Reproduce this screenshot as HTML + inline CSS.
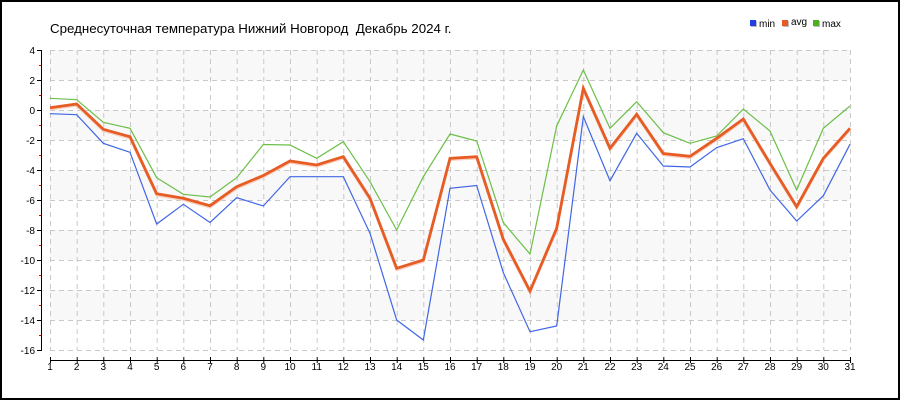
<!DOCTYPE html>
<html><head><meta charset="utf-8"><style>
html,body{margin:0;padding:0;background:#fff;}
svg{display:block;}
text{font-family:"Liberation Sans",Arial,sans-serif;}
</style></head><body>
<svg width="900" height="400" viewBox="0 0 900 400" xmlns="http://www.w3.org/2000/svg">
<rect x="0" y="0" width="900" height="400" fill="#fff"/>
<g fill="#f8f8f8">
<rect x="50" y="50" width="800" height="30"/>
<rect x="50" y="110" width="800" height="30"/>
<rect x="50" y="170" width="800" height="30"/>
<rect x="50" y="230" width="800" height="30"/>
<rect x="50" y="290" width="800" height="30"/>
</g>
<g stroke="#c8c8c8" stroke-width="1" stroke-dasharray="5,4" fill="none">
<path d="M50,50.5H850M50,80.5H850M50,110.5H850M50,140.5H850M50,170.5H850M50,200.5H850M50,230.5H850M50,260.5H850M50,290.5H850M50,320.5H850M50,350.5H850"/>
<path d="M50.5,50V350M77.2,50V350M103.8,50V350M130.5,50V350M157.2,50V350M183.8,50V350M210.5,50V350M237.2,50V350M263.8,50V350M290.5,50V350M317.2,50V350M343.8,50V350M370.5,50V350M397.2,50V350M423.8,50V350M450.5,50V350M477.2,50V350M503.8,50V350M530.5,50V350M557.2,50V350M583.8,50V350M610.5,50V350M637.2,50V350M663.8,50V350M690.5,50V350M717.2,50V350M743.8,50V350M770.5,50V350M797.2,50V350M823.8,50V350M850.5,50V350"/>
</g>
<g stroke="#000" stroke-width="1">
<path d="M41.5,50V350"/>
<path d="M37,50.5H42M37,80.5H42M37,110.5H42M37,140.5H42M37,170.5H42M37,200.5H42M37,230.5H42M37,260.5H42M37,290.5H42M37,320.5H42M37,350.5H42"/>
</g>
<g stroke="#d00" stroke-width="1">
<path d="M39,65.5H41M39,95.5H41M39,125.5H41M39,155.5H41M39,185.5H41M39,215.5H41M39,245.5H41M39,275.5H41M39,305.5H41M39,335.5H41"/>
</g>
<g font-size="10" fill="#000" text-anchor="end">
<text x="35" y="54">4</text>
<text x="35" y="84">2</text>
<text x="35" y="114">0</text>
<text x="35" y="144">-2</text>
<text x="35" y="174">-4</text>
<text x="35" y="204">-6</text>
<text x="35" y="234">-8</text>
<text x="35" y="264">-10</text>
<text x="35" y="294">-12</text>
<text x="35" y="324">-14</text>
<text x="35" y="354">-16</text>
</g>
<g stroke="#000" stroke-width="1">
<path d="M50,360.5H851"/>
<path d="M50.5,357V363M77.2,357V363M103.8,357V363M130.5,357V363M157.2,357V363M183.8,357V363M210.5,357V363M237.2,357V363M263.8,357V363M290.5,357V363M317.2,357V363M343.8,357V363M370.5,357V363M397.2,357V363M423.8,357V363M450.5,357V363M477.2,357V363M503.8,357V363M530.5,357V363M557.2,357V363M583.8,357V363M610.5,357V363M637.2,357V363M663.8,357V363M690.5,357V363M717.2,357V363M743.8,357V363M770.5,357V363M797.2,357V363M823.8,357V363M850.5,357V363"/>
</g>
<g font-size="10" fill="#000" text-anchor="middle">
<text x="50" y="370">1</text><text x="76.7" y="370">2</text><text x="103.3" y="370">3</text><text x="130" y="370">4</text><text x="156.7" y="370">5</text><text x="183.3" y="370">6</text><text x="210" y="370">7</text><text x="236.7" y="370">8</text><text x="263.3" y="370">9</text><text x="290" y="370">10</text><text x="316.7" y="370">11</text><text x="343.3" y="370">12</text><text x="370" y="370">13</text><text x="396.7" y="370">14</text><text x="423.3" y="370">15</text><text x="450" y="370">16</text><text x="476.7" y="370">17</text><text x="503.3" y="370">18</text><text x="530" y="370">19</text><text x="556.7" y="370">20</text><text x="583.3" y="370">21</text><text x="610" y="370">22</text><text x="636.7" y="370">23</text><text x="663.3" y="370">24</text><text x="690" y="370">25</text><text x="716.7" y="370">26</text><text x="743.3" y="370">27</text><text x="770" y="370">28</text><text x="796.7" y="370">29</text><text x="823.3" y="370">30</text><text x="850" y="370">31</text>
</g>
<polyline fill="none" stroke="#6cbf48" stroke-width="1.2" points="50,98.3 76.67,99.7 103.33,122.3 130,128.3 156.67,177.7 183.33,194.3 210,197 236.67,177.7 263.33,144.5 290,145 316.67,158.3 343.33,141.7 370,181.7 396.67,230 423.33,176.7 450,134 476.67,141 503.33,222.7 530,254 556.67,126 583.33,70 610,128.3 636.67,101.7 663.33,132.7 690,143.3 716.67,136 743.33,109 770,131 796.67,190 823.33,128.3 850,106"/>
<polyline fill="none" stroke="#4066e6" stroke-width="1.2" points="50,113.7 76.67,114.7 103.33,143.3 130,152.3 156.67,224 183.33,204.3 210,222.5 236.67,197.7 263.33,206 290,176.7 316.67,176.7 343.33,176.7 370,233.3 396.67,320 423.33,340 450,188.3 476.67,185.5 503.33,272.7 530,331.7 556.67,326 583.33,116.7 610,180.7 636.67,133.3 663.33,166 690,167 716.67,147.7 743.33,138.7 770,190 796.67,221 823.33,195.7 850,144.3"/>
<polyline fill="none" stroke="#f8d0bf" stroke-width="2.5" transform="translate(0,1.5)" points="50,107.7 76.67,104 103.33,129.3 130,136.7 156.67,193.7 183.33,198.3 210,205.7 236.67,186.7 263.33,175.5 290,161 316.67,165 343.33,156.7 370,198.3 396.67,268.3 423.33,260 450,158.3 476.67,156.7 503.33,239.3 530,291 556.67,228.3 583.33,88.3 610,148.3 636.67,114.3 663.33,153.5 690,156.3 716.67,138.3 743.33,119 770,163.3 796.67,206.7 823.33,158.3 850,128.3"/>
<polyline fill="none" stroke="#e65c24" stroke-width="2.8" points="50,107.7 76.67,104 103.33,129.3 130,136.7 156.67,193.7 183.33,198.3 210,205.7 236.67,186.7 263.33,175.5 290,161 316.67,165 343.33,156.7 370,198.3 396.67,268.3 423.33,260 450,158.3 476.67,156.7 503.33,239.3 530,291 556.67,228.3 583.33,88.3 610,148.3 636.67,114.3 663.33,153.5 690,156.3 716.67,138.3 743.33,119 770,163.3 796.67,206.7 823.33,158.3 850,128.3"/>
<text x="50" y="33" font-size="13.3" fill="#000" xml:space="preserve" style="white-space:pre">Среднесуточная температура Нижний Новгород  Декабрь 2024 г.</text>
<rect x="751" y="21" width="6" height="6" fill="#bbb"/>
<rect x="750" y="20" width="6" height="6" fill="#2040e0"/>
<text x="759" y="27" font-size="10" fill="#000">min</text>
<rect x="783" y="21" width="6" height="6" fill="#bbb"/>
<rect x="782" y="20" width="6" height="6" fill="#e65c24"/>
<text x="791" y="25" font-size="10" fill="#000">avg</text>
<rect x="814" y="21" width="6" height="6" fill="#bbb"/>
<rect x="813" y="20" width="6" height="6" fill="#4caf20"/>
<text x="822" y="27" font-size="10" fill="#000">max</text>
<rect x="1" y="1" width="898" height="398" fill="none" stroke="#000" stroke-width="2"/>
<rect x="0.5" y="0.5" width="898.5" height="398.5" fill="none" stroke="#000" stroke-width="1"/>
</svg>
</body></html>
